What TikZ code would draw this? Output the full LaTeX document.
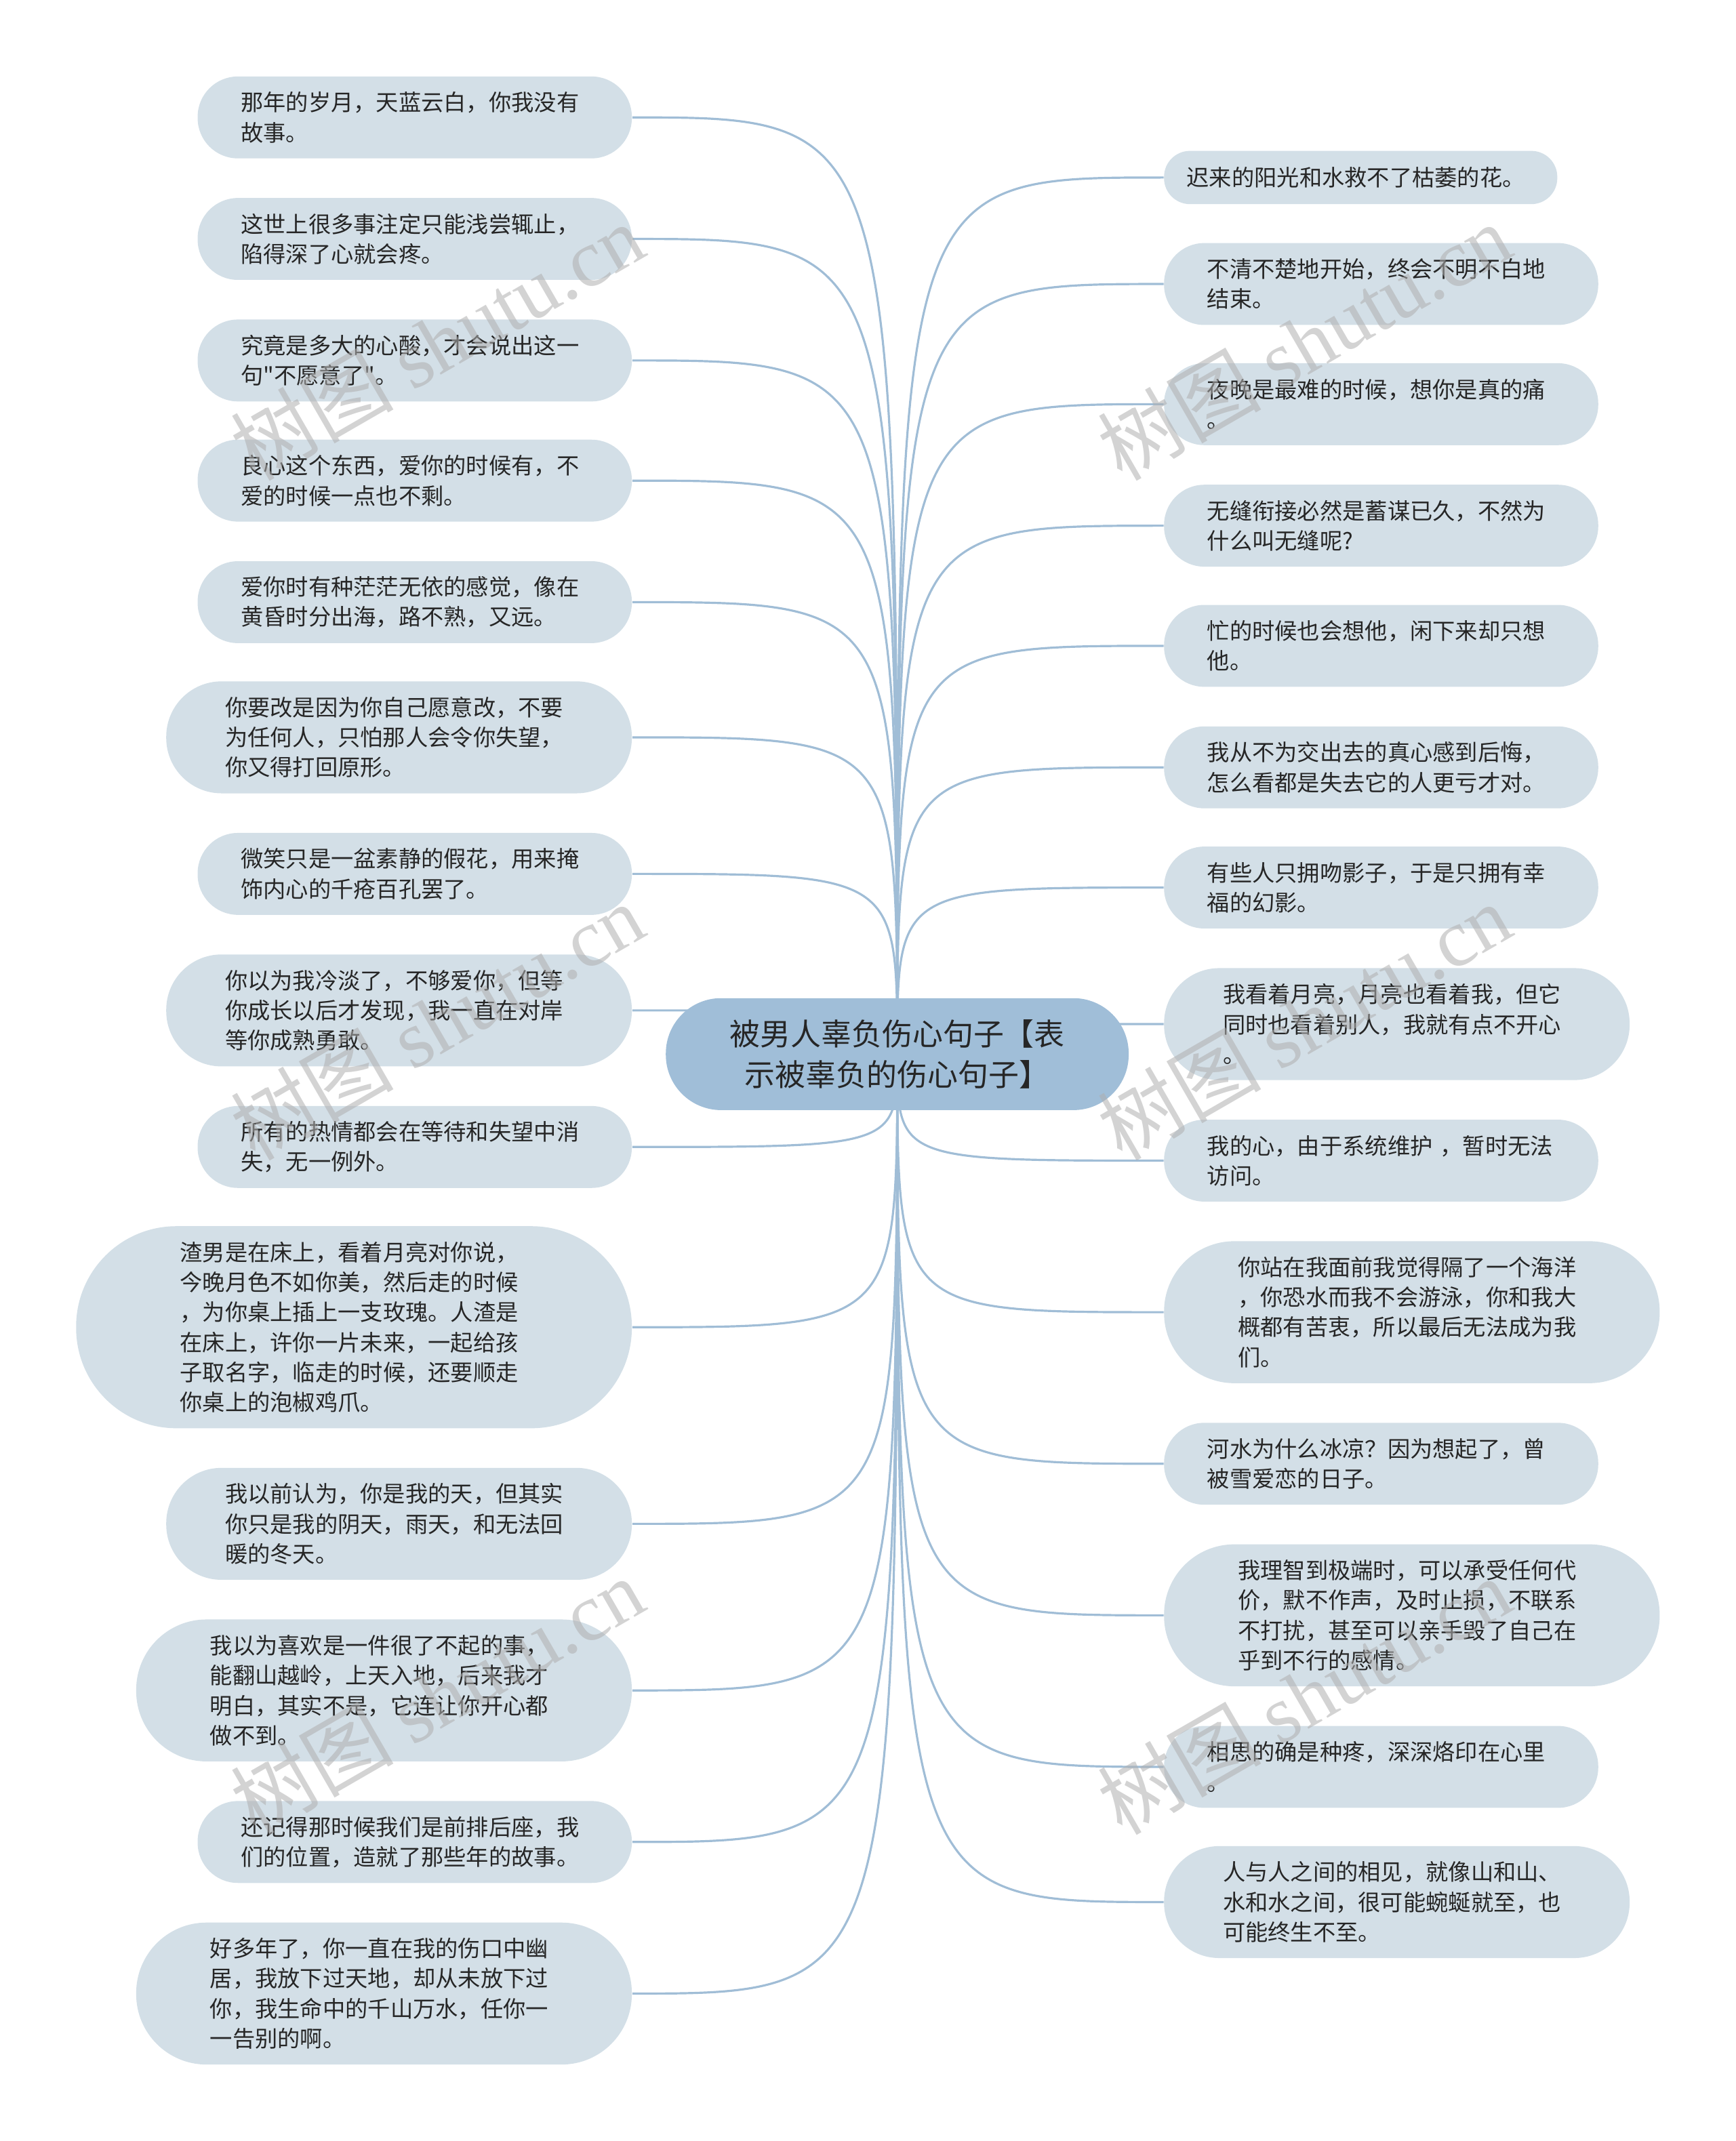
\documentclass[tikz,border=0pt]{standalone}
\usepackage{fontspec}
\newfontfamily\cjk{Noto Sans CJK SC}
\newfontfamily\markfont{Liberation Serif}
\usetikzlibrary{backgrounds}
\definecolor{Leaf}{RGB}{211,223,231}
\definecolor{Root}{RGB}{160,190,216}
\definecolor{Branch}{RGB}{160,189,214}
\definecolor{Ink}{RGB}{38,38,38}
\definecolor{Mark}{RGB}{175,175,175}

\begin{document}
\begin{tikzpicture}[
    x=0.02cm,
    y=-0.02cm,
    leaf/.style={
      rectangle,
      fill=Leaf,
      text=Ink,
      text width=145pt,
      align=left,
      inner sep=0pt,
      font=\cjk\fontsize{9.4pt}{12.5pt}\selectfont
    },
    one/.style={minimum width=5.76cm, minimum height=0.78cm, rounded corners=0.38cm},
    two/.style={minimum width=6.36cm, minimum height=1.2cm, rounded corners=0.59cm},
    three/.style={minimum width=6.82cm, minimum height=1.64cm, rounded corners=0.81cm},
    four/.style={minimum width=7.26cm, minimum height=2.08cm, rounded corners=1.03cm},
    six/.style={minimum width=8.14cm, minimum height=2.96cm, rounded corners=1.47cm},
    rootnode/.style={
      rectangle,
      fill=Root,
      text=Ink,
      align=center,
      inner sep=0pt,
      minimum width=6.78cm,
      minimum height=1.64cm,
      rounded corners=0.81cm,
      font=\cjk\fontsize{12.7pt}{17pt}\selectfont
    },
    branch/.style={draw=Branch, line width=0.9pt},
    watermark/.style={text=Mark, opacity=0.55, rotate=30, font=\cjk\fontsize{34pt}{34pt}\selectfont}
  ]
    \useasboundingbox (0,0) rectangle (1271,1568);

    % Central topic
    \node[rootnode] (root) at (657,772) {被男人辜负伤心句子【表\\示被辜负的伤心句子】};

    % Left column
    \node[leaf, two, anchor=east] (l1) at (463,86) {那年的岁月，天蓝云白，你我没有\\故事。};
    \node[leaf, two, anchor=east] (l2) at (463,175) {这世上很多事注定只能浅尝辄止，\\陷得深了心就会疼。};
    \node[leaf, two, anchor=east] (l3) at (463,264) {究竟是多大的心酸，才会说出这一\\句"不愿意了"。};
    \node[leaf, two, anchor=east] (l4) at (463,352) {良心这个东西，爱你的时候有，不\\爱的时候一点也不剩。};
    \node[leaf, two, anchor=east] (l5) at (463,441) {爱你时有种茫茫无依的感觉，像在\\黄昏时分出海，路不熟，又远。};
    \node[leaf, three, anchor=east] (l6) at (463,540) {你要改是因为你自己愿意改，不要\\为任何人，只怕那人会令你失望，\\你又得打回原形。};
    \node[leaf, two, anchor=east] (l7) at (463,640) {微笑只是一盆素静的假花，用来掩\\饰内心的千疮百孔罢了。};
    \node[leaf, three, anchor=east] (l8) at (463,740) {你以为我冷淡了，不够爱你，但等\\你成长以后才发现，我一直在对岸\\等你成熟勇敢。};
    \node[leaf, two, anchor=east] (l9) at (463,840) {所有的热情都会在等待和失望中消\\失，无一例外。};
    \node[leaf, six, anchor=east] (l10) at (463,972) {渣男是在床上，看着月亮对你说，\\今晚月色不如你美，然后走的时候\\，为你桌上插上一支玫瑰。人渣是\\在床上，许你一片未来，一起给孩\\子取名字，临走的时候，还要顺走\\你桌上的泡椒鸡爪。};
    \node[leaf, three, anchor=east] (l11) at (463,1116) {我以前认为，你是我的天，但其实\\你只是我的阴天，雨天，和无法回\\暖的冬天。};
    \node[leaf, four, anchor=east] (l12) at (463,1238) {我以为喜欢是一件很了不起的事，\\能翻山越岭，上天入地，后来我才\\明白，其实不是，它连让你开心都\\做不到。};
    \node[leaf, two, anchor=east] (l13) at (463,1349) {还记得那时候我们是前排后座，我\\们的位置，造就了那些年的故事。};
    \node[leaf, four, anchor=east] (l14) at (463,1460) {好多年了，你一直在我的伤口中幽\\居，我放下过天地，却从未放下过\\你，我生命中的千山万水，任你一\\一告别的啊。};

    % Right column
    \node[leaf, one, anchor=west] (r1) at (852,130) {迟来的阳光和水救不了枯萎的花。};
    \node[leaf, two, anchor=west] (r2) at (852,208) {不清不楚地开始，终会不明不白地\\结束。};
    \node[leaf, two, anchor=west] (r3) at (852,296) {夜晚是最难的时候，想你是真的痛\\。};
    \node[leaf, two, anchor=west] (r4) at (852,385) {无缝衔接必然是蓄谋已久，不然为\\什么叫无缝呢?};
    \node[leaf, two, anchor=west] (r5) at (852,473) {忙的时候也会想他，闲下来却只想\\他。};
    \node[leaf, two, anchor=west] (r6) at (852,562) {我从不为交出去的真心感到后悔，\\怎么看都是失去它的人更亏才对。};
    \node[leaf, two, anchor=west] (r7) at (852,650) {有些人只拥吻影子，于是只拥有幸\\福的幻影。};
    \node[leaf, three, anchor=west] (r8) at (852,750) {我看着月亮，月亮也看着我，但它\\同时也看着别人，我就有点不开心\\。};
    \node[leaf, two, anchor=west] (r9) at (852,850) {我的心，由于系统维护 ，暂时无法\\访问。};
    \node[leaf, four, anchor=west] (r10) at (852,961) {你站在我面前我觉得隔了一个海洋\\，你恐水而我不会游泳，你和我大\\概都有苦衷，所以最后无法成为我\\们。};
    \node[leaf, two, anchor=west] (r11) at (852,1072) {河水为什么冰凉？因为想起了，曾\\被雪爱恋的日子。};
    \node[leaf, four, anchor=west] (r12) at (852,1183) {我理智到极端时，可以承受任何代\\价，默不作声，及时止损，不联系\\不打扰，甚至可以亲手毁了自己在\\乎到不行的感情。};
    \node[leaf, two, anchor=west] (r13) at (852,1294) {相思的确是种疼，深深烙印在心里\\。};
    \node[leaf, three, anchor=west] (r14) at (852,1393) {人与人之间的相见，就像山和山、\\水和水之间，很可能蜿蜒就至，也\\可能终生不至。};

    % Branches, behind the boxes
    \begin{pgfonlayer}{background}
    \draw[branch] (root.center) .. controls (root.center |- l1.east) .. (l1.east);
    \draw[branch] (root.center) .. controls (root.center |- l2.east) .. (l2.east);
    \draw[branch] (root.center) .. controls (root.center |- l3.east) .. (l3.east);
    \draw[branch] (root.center) .. controls (root.center |- l4.east) .. (l4.east);
    \draw[branch] (root.center) .. controls (root.center |- l5.east) .. (l5.east);
    \draw[branch] (root.center) .. controls (root.center |- l6.east) .. (l6.east);
    \draw[branch] (root.center) .. controls (root.center |- l7.east) .. (l7.east);
    \draw[branch] (root.center) .. controls (root.center |- l8.east) .. (l8.east);
    \draw[branch] (root.center) .. controls (root.center |- l9.east) .. (l9.east);
    \draw[branch] (root.center) .. controls (root.center |- l10.east) .. (l10.east);
    \draw[branch] (root.center) .. controls (root.center |- l11.east) .. (l11.east);
    \draw[branch] (root.center) .. controls (root.center |- l12.east) .. (l12.east);
    \draw[branch] (root.center) .. controls (root.center |- l13.east) .. (l13.east);
    \draw[branch] (root.center) .. controls (root.center |- l14.east) .. (l14.east);
    \draw[branch] (root.center) .. controls (root.center |- r1.west) .. (r1.west);
    \draw[branch] (root.center) .. controls (root.center |- r2.west) .. (r2.west);
    \draw[branch] (root.center) .. controls (root.center |- r3.west) .. (r3.west);
    \draw[branch] (root.center) .. controls (root.center |- r4.west) .. (r4.west);
    \draw[branch] (root.center) .. controls (root.center |- r5.west) .. (r5.west);
    \draw[branch] (root.center) .. controls (root.center |- r6.west) .. (r6.west);
    \draw[branch] (root.center) .. controls (root.center |- r7.west) .. (r7.west);
    \draw[branch] (root.center) .. controls (root.center |- r8.west) .. (r8.west);
    \draw[branch] (root.center) .. controls (root.center |- r9.west) .. (r9.west);
    \draw[branch] (root.center) .. controls (root.center |- r10.west) .. (r10.west);
    \draw[branch] (root.center) .. controls (root.center |- r11.west) .. (r11.west);
    \draw[branch] (root.center) .. controls (root.center |- r12.west) .. (r12.west);
    \draw[branch] (root.center) .. controls (root.center |- r13.west) .. (r13.west);
    \draw[branch] (root.center) .. controls (root.center |- r14.west) .. (r14.west);
    \end{pgfonlayer}

    % Watermarks
    \node[watermark] (wm1) at (320,250) {树图 {\markfont shutu.cn}};
    \node[watermark] (wm2) at (955,250) {树图 {\markfont shutu.cn}};
    \node[watermark] (wm3) at (320,748) {树图 {\markfont shutu.cn}};
    \node[watermark] (wm4) at (955,748) {树图 {\markfont shutu.cn}};
    \node[watermark] (wm5) at (320,1242) {树图 {\markfont shutu.cn}};
    \node[watermark] (wm6) at (955,1242) {树图 {\markfont shutu.cn}};
  \end{tikzpicture}
\end{document}
